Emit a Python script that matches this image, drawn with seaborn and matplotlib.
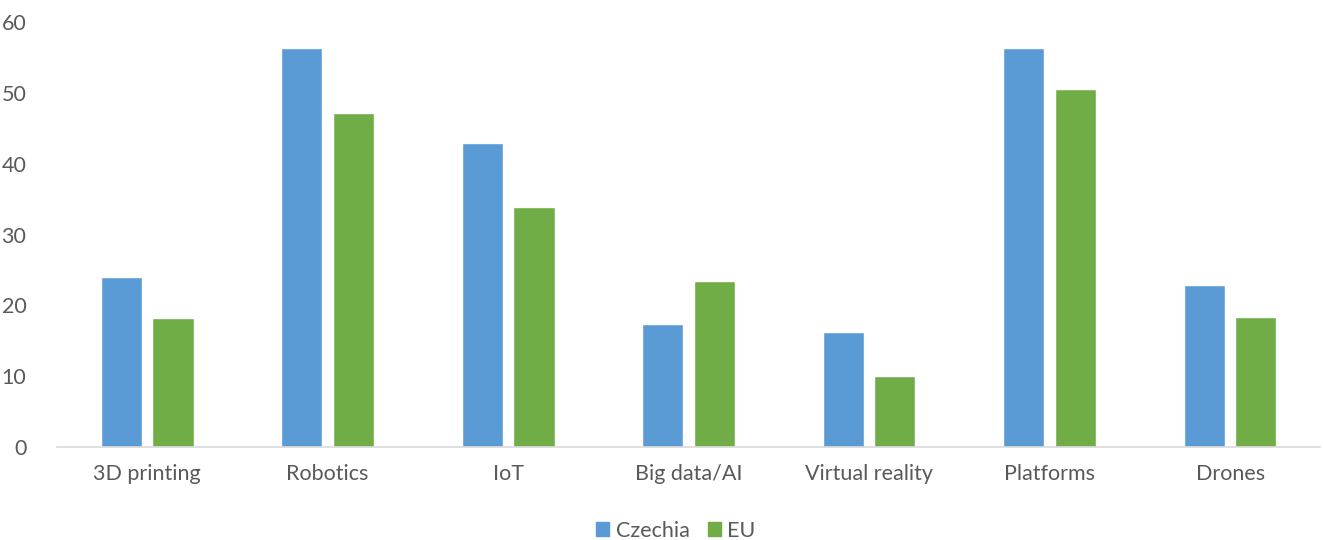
import pandas as pd
import seaborn as sns
import matplotlib.pyplot as plt

categories = ["3D printing", "Robotics", "IoT", "Big data/AI", "Virtual reality", "Platforms", "Drones"]
czechia = [24.0, 56.4, 43.0, 17.4, 16.2, 56.4, 22.9]
eu = [18.3, 47.2, 33.9, 23.4, 10.0, 50.5, 18.4]
series = ["Czechia", "EU"]
colors = ["#5B9BD5", "#70AD47"]

df = pd.DataFrame({
    "category": categories * 2,
    "value": czechia + eu,
    "series": ["Czechia"] * len(categories) + ["EU"] * len(categories),
})

sns.set_style("white")
plt.rcParams['font.family'] = ['Lato', 'DejaVu Sans']

fig = plt.figure(figsize=(13.23, 5.4), dpi=100)
ax = fig.add_axes([0.043, 0.172, 0.955, 0.787])

sns.barplot(data=df, x="category", y="value", hue="series", hue_order=series,
            palette=colors, width=0.571, gap=0.2, saturation=1, ax=ax, legend=False)

ax.set_ylim(0, 60)
ax.set_yticks(range(0, 61, 10))
ax.set_xlim(-0.5, len(categories) - 0.5)
ax.set_xlabel("")
ax.set_ylabel("")
for s in ["top", "right", "left"]:
    ax.spines[s].set_visible(False)
ax.spines["bottom"].set_color("#d9d9d9")
ax.spines["bottom"].set_linewidth(1.2)
ax.tick_params(axis="both", length=0, labelsize=15.5, labelcolor="#595959")
ax.tick_params(axis="x", pad=12)
ax.tick_params(axis="y", pad=22)

# legend sits a little right of centre, as in the original
handles = [plt.Rectangle((0, 0), 1, 1, color=c) for c in colors]
fig.legend(handles, series, loc="center", bbox_to_anchor=(0.511, 0.017), ncol=2,
           frameon=False, fontsize=15.5, labelcolor="#595959",
           handlelength=0.6, handleheight=0.6, handletextpad=0.3, columnspacing=0.85)

fig.savefig("out.png", dpi=100)
